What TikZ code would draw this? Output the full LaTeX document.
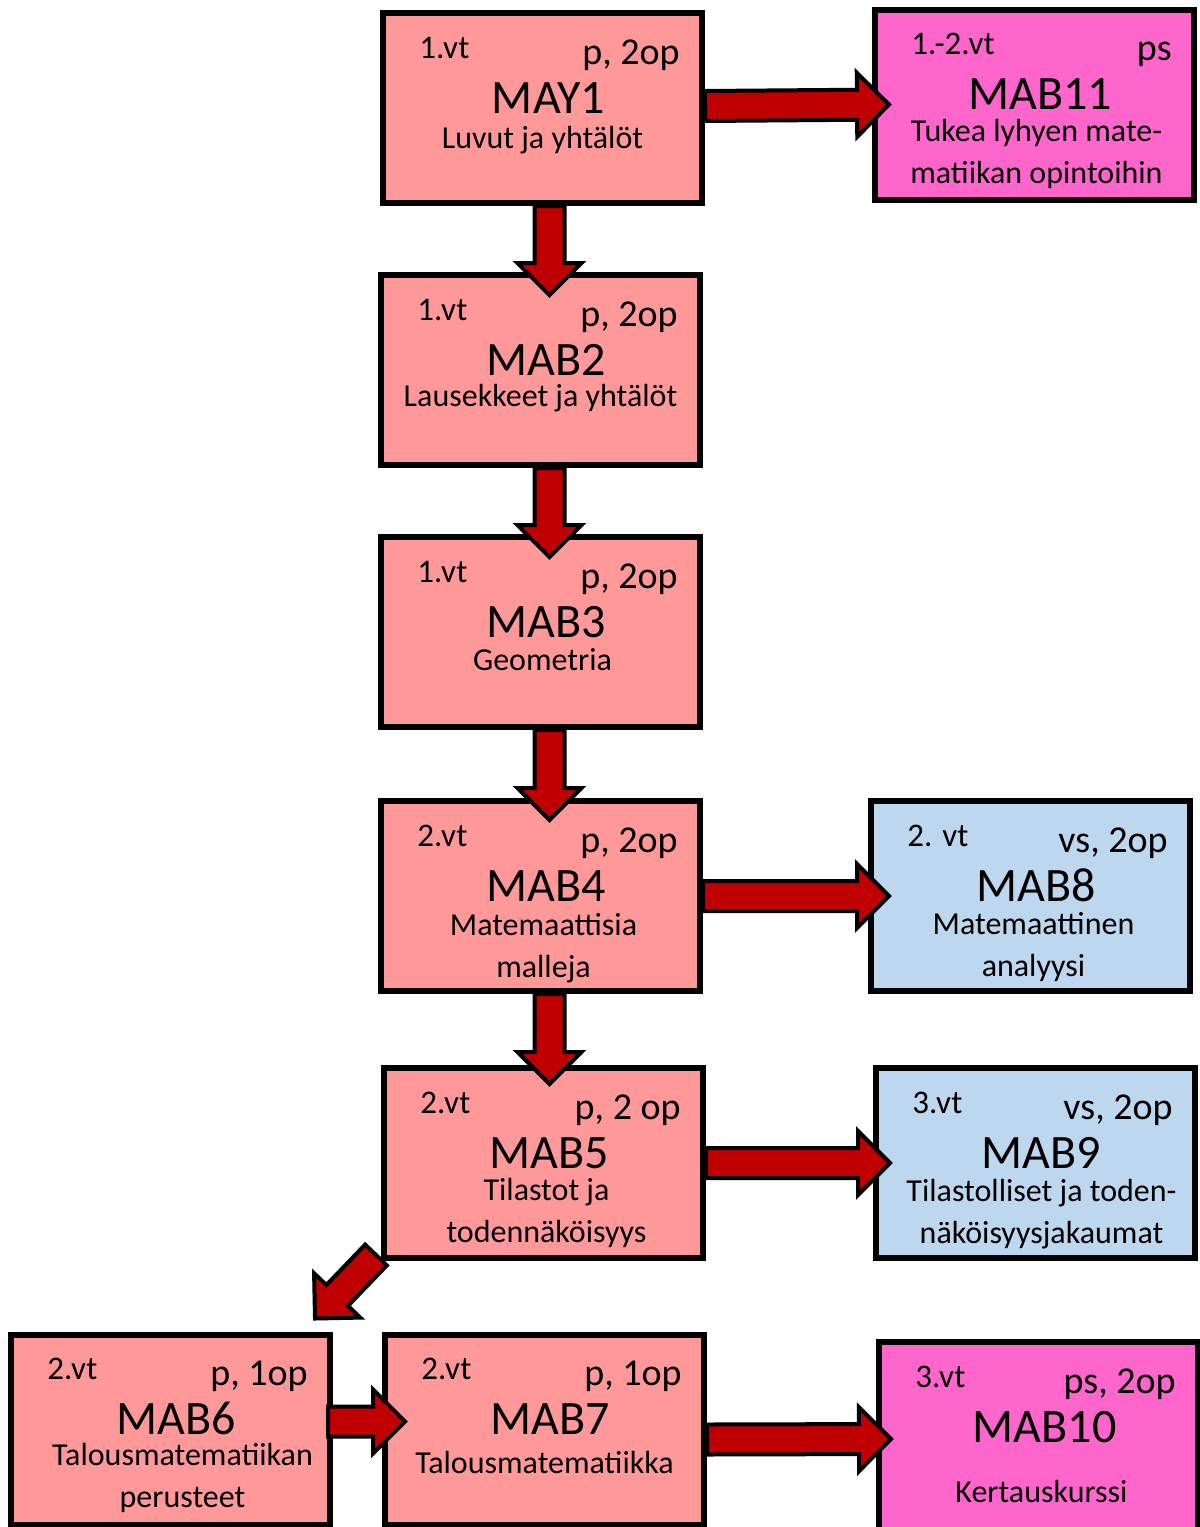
\documentclass[tikz,border=0pt]{standalone}
\usepackage{fontspec}
\setmainfont{Carlito}
\usetikzlibrary{calc}
\definecolor{pakollinen}{HTML}{FF9999}
\definecolor{syventava}{HTML}{BDD7EE}
\definecolor{soveltava}{HTML}{FF66CC}
\definecolor{nuolenpuna}{HTML}{C00000}

\newcommand{\kurssi}[6]{%
	\node[laatikko,fill=#3] (#1) at (#2) {};
	\node[jakso] (#1-jakso) at ($(#1.north west)+(39,48)$) {#4};
	\node[laajuus] (#1-laajuus) at ($(#1.north east)+(-25,54)$) {#5};
	\node[koodi] (#1-koodi) at ($(#1.north)+(6,103)$) {#6};
}
\newcommand{\nuoli}[2]{%
	\coordinate (na) at (#1);
	\coordinate (nb) at (#2);
	\coordinate (nk) at ($(nb)!16pt!(na)$);
	\draw[nuolityyli] ($(na)!7.5pt!90:(nb)$) -- ($(nk)!7.5pt!90:(nb)$) -- ($(nk)!16pt!90:(nb)$) -- (nb)
		-- ($(nk)!16pt!-90:(nb)$) -- ($(nk)!7.5pt!-90:(nb)$) -- ($(na)!7.5pt!-90:(nb)$) -- cycle;
}

\begin{document}
\begin{tikzpicture}[x=0.5pt,y=-0.5pt,
		laatikko/.style={draw=black,line width=3pt,minimum width=159.5pt,minimum height=95pt,inner sep=0pt},
		jakso/.style={anchor=base west,inner sep=0pt,font=\fontsize{16.5}{19}\selectfont},
		laajuus/.style={anchor=base east,inner sep=0pt,font=\fontsize{19}{22}\selectfont},
		koodi/.style={anchor=base,inner sep=0pt,text depth=0pt,font=\fontsize{24}{28}\selectfont},
		aihe/.style={anchor=base,inner sep=0pt,align=center,font=\fontsize{16}{21}\selectfont},
		nuolityyli/.style={draw=black,line width=2pt,fill=nuolenpuna}]
	\clip (0,0) rectangle (1200,1527);
	% kurssit
	\kurssi{may1}{542.5,108}{pakollinen}{1.vt}{p, 2op}{MAY1}
	\kurssi{mab11}{1034.5,104.5}{soveltava}{1.-2.vt}{ps}{MAB11}
	\kurssi{mab2}{540.5,370}{pakollinen}{1.vt}{p, 2op}{MAB2}
	\kurssi{mab3}{540.5,632}{pakollinen}{1.vt}{p, 2op}{MAB3}
	\kurssi{mab4}{540.5,896}{pakollinen}{2.vt}{p, 2op}{MAB4}
	\kurssi{mab8}{1030.5,896}{syventava}{2. vt}{vs, 2op}{MAB8}
	\kurssi{mab5}{543.5,1163}{pakollinen}{2.vt}{p, 2 op}{MAB5}
	\kurssi{mab9}{1035.5,1163}{syventava}{3.vt}{vs, 2op}{MAB9}
	\kurssi{mab6}{170.5,1429.5}{pakollinen}{2.vt}{p, 1op}{MAB6}
	\kurssi{mab7}{544.5,1429.5}{pakollinen}{2.vt}{p, 1op}{MAB7}
	\kurssi{mab10}{1038.5,1437}{soveltava}{3.vt}{ps, 2op}{MAB10}
	% aiheet (base = viimeisen rivin pohjaviiva)
	\node[aihe] (may1-aihe) at ($(may1.north)+(0,138)$) {Luvut ja yhtälöt};
	\node[aihe] (mab11-aihe) at ($(mab11.north)+(2,177)$) {Tukea lyhyen mate-\\matiikan opintoihin};
	\node[aihe] (mab2-aihe) at ($(mab2.north)+(0,134)$) {Lausekkeet ja yhtälöt};
	\node[aihe] (mab3-aihe) at ($(mab3.north)+(2,136)$) {Geometria};
	\node[aihe] (mab4-aihe) at ($(mab4.north)+(3,179)$) {Matemaattisia\\malleja};
	\node[aihe] (mab8-aihe) at ($(mab8.north)+(3,178)$) {Matemaattinen\\analyysi};
	\node[aihe] (mab5-aihe) at ($(mab5.north)+(3,177)$) {Tilastot ja\\todennäköisyys};
	\node[aihe] (mab9-aihe) at ($(mab9.north)+(6,178)$) {Tilastolliset ja toden-\\näköisyysjakaumat};
	\node[aihe] (mab6-aihe) at ($(mab6.north)+(12,176)$) {Talousmatematiikan\\perusteet};
	\node[aihe] (mab7-aihe) at ($(mab7.north)+(0,142)$) {Talousmatematiikka};
	\node[aihe] (mab10-aihe) at ($(mab10.north)+(3,163)$) {Kertauskurssi};
	% nuolet
	\nuoli{$(may1.south)+(7,0)$}{$(mab2.north)+(9,23)$}
	\nuoli{$(mab2.south)+(9,0)$}{$(mab3.north)+(9,23)$}
	\nuoli{$(mab3.south)+(9,0)$}{$(mab4.north)+(9,22)$}
	\nuoli{$(mab4.south)+(9,0)$}{$(mab5.north)+(6,19)$}
	\nuoli{$(may1.east)+(0,-2)$}{$(mab11.west)+(17,0)$}
	\nuoli{$(mab4.east)+(0,0)$}{$(mab8.west)+(21,0)$}
	\nuoli{$(mab5.east)+(0,0)$}{$(mab9.west)+(17,0)$}
	\nuoli{$(mab7.east)+(0,10)$}{$(mab10.west)+(15,2)$}
	\nuoli{$(mab6.east)+(-5,-8)$}{$(mab7.west)+(23,-8)$}
	\nuoli{$(mab5.south west)+(-5,-6)$}{$(mab6.north east)+(-18,-13)$}
\end{tikzpicture}
\end{document}
